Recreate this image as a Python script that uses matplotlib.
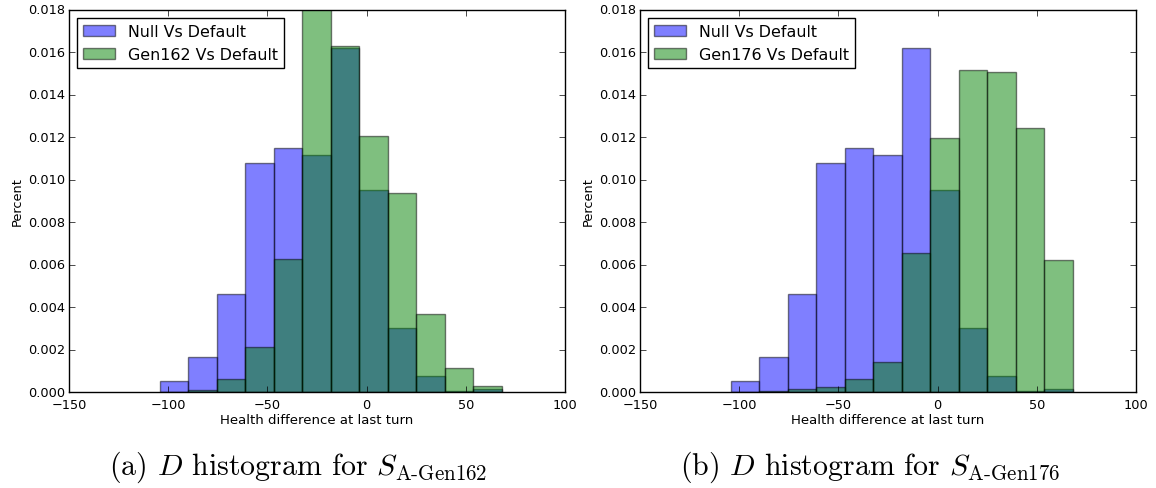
import numpy as np
import matplotlib
matplotlib.use("Agg")
import matplotlib.pyplot as plt

# bin edges of the histograms (12 bins)
bin_lo, bin_hi, n_bins = -104.2, 68.0, 12
edges = np.linspace(bin_lo, bin_hi, n_bins + 1)

# normalised counts
null_vs_default = [0.00053, 0.00166, 0.00463, 0.01078, 0.01147, 0.01116,
                   0.01621, 0.00951, 0.00302, 0.00075, 0.00003, 0.00012]
gen162_vs_default = [0.0, 0.00010, 0.00063, 0.00210, 0.00626, 0.01830,
                     0.01629, 0.01207, 0.00936, 0.00369, 0.00114, 0.00030]
gen176_vs_default = [0.0, 0.00005, 0.00014, 0.00025, 0.00063, 0.00142,
                     0.00654, 0.01196, 0.01515, 0.01507, 0.01241, 0.00621]

panels = [
    ("Gen162 Vs Default", gen162_vs_default, r"(a) $D$ histogram for $S_{\mathrm{A\text{-}Gen162}}$"),
    ("Gen176 Vs Default", gen176_vs_default, r"(b) $D$ histogram for $S_{\mathrm{A\text{-}Gen176}}$"),
]

plt.style.use("classic")
plt.rcParams["mathtext.fontset"] = "cm"
plt.rcParams["figure.facecolor"] = "white"

fig = plt.figure(figsize=(11.56, 4.89), dpi=100)
axes_pos = [[0.0597, 0.1963, 0.4291, 0.782],
            [0.5536, 0.1963, 0.4291, 0.782]]
caption_x = [0.258, 0.7526]

widths = np.diff(edges)
for i, (gen_label, gen_vals, caption) in enumerate(panels):
    ax = fig.add_axes(axes_pos[i])
    ax.bar(edges[:-1], null_vs_default, width=widths, align="edge",
           color="b", edgecolor="k", alpha=0.5, label="Null Vs Default")
    ax.bar(edges[:-1], gen_vals, width=widths, align="edge",
           color="g", edgecolor="k", alpha=0.5, label=gen_label)
    ax.set_xlim(-150, 100)
    ax.set_ylim(0, 0.018)
    ax.set_yticks(np.arange(0, 0.0181, 0.002))
    ax.tick_params(labelsize=9.3)
    ax.tick_params(axis="y", pad=3)
    ax.set_xlabel("Health difference at last turn", fontsize=9.5, labelpad=2)
    ax.set_ylabel("Percent", fontsize=9.3, labelpad=2.5)
    ax.legend(loc="upper left", fontsize=11.4, borderaxespad=0.5)
    fig.text(caption_x[i], 0.045, caption, ha="center", va="center",
             fontsize=21.5, family="cmr10")

fig.savefig("out.png", dpi=100)
